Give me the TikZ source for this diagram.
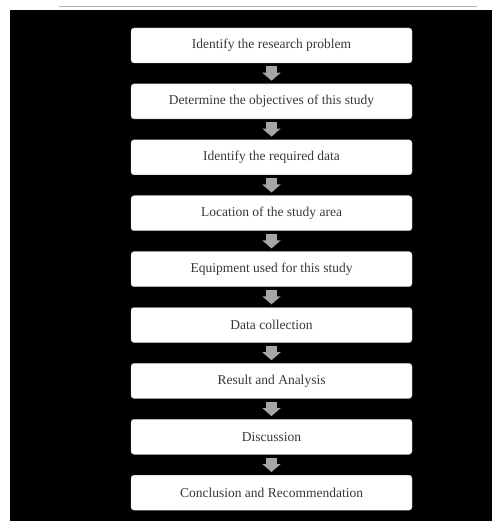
\documentclass[tikz,border=0pt]{standalone}
\usepackage{fontspec}
\setmainfont{Liberation Serif}
\usetikzlibrary{arrows.meta,positioning}

\begin{document}
\begin{tikzpicture}[x=1pt,y=1pt,node distance=20.5pt,
                    step box/.style={rectangle,rounded corners=3pt,draw=gray!55,fill=white,
                      minimum width=281pt,minimum height=35pt,font=\fontsize{13.5}{15}\selectfont,
                      text=black!78},
                    flow/.style={draw,color=gray!70,line width=11pt,shorten <=3pt,shorten >=3pt,
                      -{Triangle[width=18pt,length=8pt]}}]
\useasboundingbox (0,0) rectangle (492,-521);
\fill[black] (10,-10) rectangle (492,-521);
\draw[gray!60,line width=1pt] (59,-7) -- (477,-7);
%%%%%
\node[step box] (1) at (271.5,-45.5) {Identify the research problem};
  \node[step box] (2) [below=of 1] {Determine the objectives of this study};
  \node[step box] (3) [below=of 2] {Identify the required data};
  \node[step box] (4) [below=of 3] {Location of the study area};
  \node[step box] (5) [below=of 4] {Equipment used for this study};
  \node[step box] (6) [below=of 5] {Data collection};
  \node[step box] (7) [below=of 6] {Result and Analysis};
  \node[step box] (8) [below=of 7] {Discussion};
  \node[step box] (9) [below=of 8] {Conclusion and Recommendation};
  %%%%%%%
  \path[flow]
    (1) edge (2)
    (2) edge (3)
    (3) edge (4)
    (4) edge (5)
    (5) edge (6)
    (6) edge (7)
    (7) edge (8)
    (8) edge (9);
\end{tikzpicture}
\end{document}
